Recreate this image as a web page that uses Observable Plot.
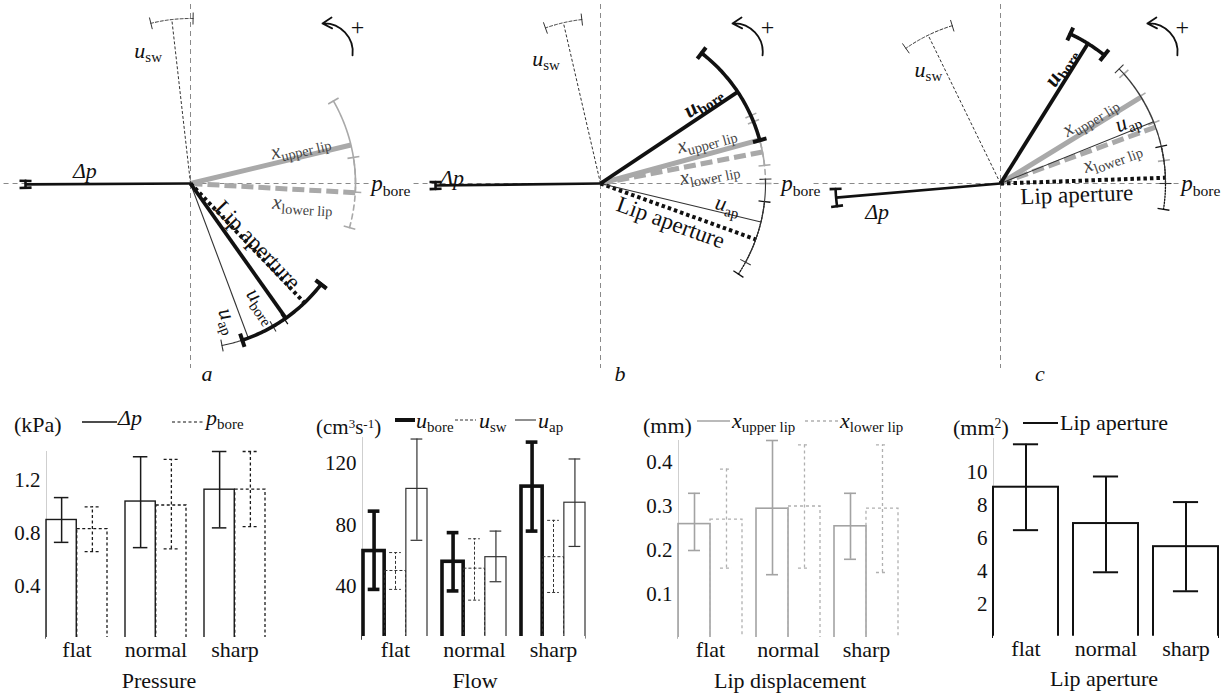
<!DOCTYPE html>
<html><head><meta charset="utf-8">
<script src="https://cdn.jsdelivr.net/npm/d3@7"></script>
<script src="https://cdn.jsdelivr.net/npm/@observablehq/plot@0.6"></script>
<style>
html,body{margin:0;padding:0;background:#fff;}
#fig{position:relative;width:1232px;height:700px;overflow:hidden;font-family:"Liberation Serif","Times New Roman",serif;color:#111;}
.pane{position:absolute;}
.pane svg{overflow:visible;max-width:none;}
.t{position:absolute;white-space:nowrap;line-height:1;font-family:"Liberation Serif",serif;color:#111;}
.t i{font-style:italic;}
.t sub{font-size:0.68em;vertical-align:-0.28em;line-height:0;font-style:normal;}
.t sup{font-size:0.62em;vertical-align:0.5em;line-height:0;}
</style></head>
<body><div id="fig"></div>
<script>
// ================= DATA =================
// Phasor diagrams: angle (deg, counter-clockwise from p_bore) and ± spread of each phasor
const phasorKeys = ["dp", "usw", "ubore", "uap", "xupper", "xlower", "aperture"];
const angleA = [180.3, 96.5, -54.7, -69.5, 13.5, -3.2, -46.3];
const errA   = [1.2, 7.4, 17, 9.5, 16.5, 12.3, 9];
const angleB = [180.7, 103, 33.7, -13.5, 15.3, 11, -19.8];
const errB   = [1.2, 6.5, 18.5, 15, 9, 11, 13.5];
const angleC = [184.9, 116, 58, 22, 31.6, 20, 2];
const errC   = [3, 9, 7, 22, 10, 12, 11];
const phasorLabel = {dp: "Δp|", usw: "u|sw", ubore: "u|bore", uap: "u|ap",
  xupper: "x|upper lip", xlower: "x|lower lip", aperture: "Lip aperture"};

// Bar charts
const conditions = ["flat", "normal", "sharp"];
// Pressure (kPa)
const dpMean = [0.90, 1.04, 1.13];
const dpLow  = [0.73, 0.69, 0.84];
const dpHigh = [1.07, 1.38, 1.42];
const pboreMean = [0.83, 1.01, 1.13];
const pboreLow  = [0.66, 0.68, 0.85];
const pboreHigh = [1.00, 1.36, 1.42];
const pressureTicks = [0.4, 0.8, 1.2];
// Flow (cm3 s-1)
const uboreMean = [63, 56, 105];
const uboreLow  = [38, 37, 76];
const uboreHigh = [89, 75, 134];
const uswMean = [50, 51.5, 59];
const uswLow  = [38, 31, 36];
const uswHigh = [62, 71, 83];
const uapMean = [103.5, 59, 94.5];
const uapLow  = [70, 43, 66];
const uapHigh = [136, 76, 123];
const flowTicks = [40, 80, 120];
// Lip displacement (mm)
const xUpperMean = [0.26, 0.295, 0.255];
const xUpperLow  = [0.20, 0.145, 0.18];
const xUpperHigh = [0.33, 0.45, 0.33];
const xLowerMean = [0.27, 0.30, 0.295];
const xLowerLow  = [0.16, 0.16, 0.15];
const xLowerHigh = [0.385, 0.44, 0.44];
const dispTicks = [0.1, 0.2, 0.3, 0.4];
// Lip aperture (mm2)
const apMean = [9.1, 6.9, 5.5];
const apLow  = [6.5, 3.95, 2.8];
const apHigh = [11.7, 9.75, 8.2];
const apTicks = [2, 4, 6, 8, 10];

// ================= LAYOUT / STYLE =================
const fig = document.getElementById("fig");
const FONT = "'Liberation Serif', 'Times New Roman', serif";
const R = 165, OX = 190, OY = 183, PH = 380;      // phasor panel geometry (px)
const AXIS_L = 1.13, AXIS_R = 1.085;
const rad = a => a * Math.PI / 180;
const drawOrder = ["xupper", "xlower", "aperture", "uap", "usw", "ubore", "dp"];
const phasorStyle = {
  dp:       {stroke: "#111", w: 2.6, arcW: 2.6, tick: 6},
  usw:      {stroke: "#333", w: 1, dash: "3,2", arcW: 1, arcDash: "3,2", tick: 6},
  ubore:    {stroke: "#111", w: 3.8, arcW: 3.6, tick: 7, tickW: 4},
  uap:      {stroke: "#333", w: 1.1, arcW: 1.1, tick: 6},
  xupper:   {stroke: "#a9a9a9", w: 5, arcW: 1.6, tick: 6},
  xlower:   {stroke: "#a9a9a9", w: 5, dash: "12,5", arcW: 1.6, arcDash: "5,4", tick: 6},
  aperture: {stroke: "#111", w: 4, dash: "3.5,3", arcW: 1.3, arcDash: "1.5,1.5", tick: 6}
};
// label placement: [fraction along phasor, perpendicular offset px]
const labelA = {dp: [0.64, -13], usw: [0.83, 27], ubore: [0.855, -12], uap: [0.86, -12], xupper: [0.70, 11], xlower: [0.685, -14], aperture: [0.55, 6]};
const labelB = {dp: [0.90, -7], usw: [0.81, 25], ubore: [0.79, 12], uap: [0.78, 9], xupper: [0.69, 15], xlower: [0.66, -10], aperture: [0.48, -13]};
const labelC = {dp: [0.76, 18], usw: [0.81, 15], ubore: [0.79, 11], uap: [0.855, 10], xupper: [0.675, 11], xlower: [0.69, -12.6], aperture: [0.46, -14]};
const rotationArrow = {x1: 0.982, y1: 0.776, x2: 0.80, y2: 0.97, px: 1.012, py: 0.945};

const panels = [
  {left: 0,   width: 410, angle: angleA, err: errA, lab: labelA, bold: false, shift: 0,    letter: "a", letterX: 207},
  {left: 410, width: 400, angle: angleB, err: errB, lab: labelB, bold: true,  shift: 0,    letter: "b", letterX: 620},
  {left: 810, width: 422, angle: angleC, err: errC, lab: labelC, bold: true,  shift: 0.09, letter: "c", letterX: 1040}
];

function richify(root) {
  const NS = "http://www.w3.org/2000/svg";
  root.querySelectorAll("text").forEach(t => {
    if (t.querySelector("tspan")) return;
    let s = t.textContent, bold = false;
    if (s.startsWith("!")) { bold = true; s = s.slice(1); }
    if (!s.includes("|")) { if (bold) { t.textContent = s; t.setAttribute("font-weight", "bold"); } return; }
    const [main, sub] = s.split("|");
    t.textContent = "";
    const m = document.createElementNS(NS, "tspan");
    m.textContent = main; m.setAttribute("font-style", "italic");
    if (bold) m.setAttribute("font-weight", "bold");
    t.appendChild(m);
    if (sub) {
      const b = document.createElementNS(NS, "tspan");
      b.textContent = sub; b.setAttribute("style", "font-size:68%"); b.setAttribute("dy", "0.3em");
      if (bold) b.setAttribute("font-weight", "bold");
      t.appendChild(b);
    }
  });
}

function place(node, left, top) {
  const d = document.createElement("div");
  d.className = "pane"; d.style.left = left + "px"; d.style.top = top + "px";
  d.appendChild(node); fig.appendChild(d); return d;
}
function txt(html, x, base, size, opts = {}) {
  const d = document.createElement("div");
  d.className = "t"; d.innerHTML = html;
  d.style.left = x + "px"; d.style.top = (base - 0.8375 * size) + "px"; d.style.fontSize = size + "px";
  if (opts.center) d.style.transform = "translateX(-50%)";
  if (opts.color) d.style.color = opts.color;
  fig.appendChild(d);
}
function sample(x1, x2, y, stroke, w, dash) {
  const svg = d3.create("svg").attr("width", x2 - x1).attr("height", 10)
    .style("position", "absolute").style("left", x1 + "px").style("top", (y - 5) + "px");
  svg.append("line").attr("x1", 0).attr("x2", x2 - x1).attr("y1", 5).attr("y2", 5)
    .attr("stroke", stroke).attr("stroke-width", w).attr("stroke-dasharray", dash || null);
  fig.appendChild(svg.node());
}

// ================= PHASOR PANELS =================
function phasorPlot(p) {
  const rows = phasorKeys.map((k, i) => ({key: k, angle: p.angle[i], err: p.err[i]}));
  const marks = [
    Plot.ruleX([0], {stroke: "#8a8a8a", strokeWidth: 1, strokeDasharray: "5,4", insetTop: 4, insetBottom: 12}),
    Plot.ruleY([0], {x1: () => -AXIS_L, x2: () => AXIS_R, stroke: "#8a8a8a", strokeWidth: 1, strokeDasharray: "5,4"})
  ];
  for (const k of drawOrder) {
    const r = rows.find(d => d.key === k), s = phasorStyle[k];
    const arc = d3.range(0, 49).map(j => rad(r.angle - r.err + 2 * r.err * j / 48));
    marks.push(Plot.line(arc, {x: a => Math.cos(a), y: a => Math.sin(a), stroke: s.stroke, strokeWidth: s.arcW, strokeDasharray: s.arcDash}));
    const t = s.tick / R;
    marks.push(Plot.link([r.angle - r.err, r.angle + r.err], {
      x1: a => (1 - t) * Math.cos(rad(a)), y1: a => (1 - t) * Math.sin(rad(a)),
      x2: a => (1 + t) * Math.cos(rad(a)), y2: a => (1 + t) * Math.sin(rad(a)),
      stroke: s.stroke, strokeWidth: s.tickW || s.arcW}));
    marks.push(Plot.link([r], {x1: () => 0, y1: () => 0, x2: d => Math.cos(rad(d.angle)), y2: d => Math.sin(rad(d.angle)),
      stroke: s.stroke, strokeWidth: s.w, strokeDasharray: s.dash, strokeLinecap: "butt"}));
  }
  for (const k of phasorKeys) {
    const r = rows.find(d => d.key === k), [along, off] = p.lab[k];
    const th = rad(r.angle), o = off / R;
    const x = along * Math.cos(th) - o * Math.sin(th), y = along * Math.sin(th) + o * Math.cos(th);
    const rot = (k === "dp" || k === "usw") ? 0 : -r.angle;
    const text = (k === "ubore" && p.bold ? "!" : "") + phasorLabel[k];
    marks.push(Plot.text([r], {x: () => x, y: () => y, text: () => text, rotate: rot,
      fontSize: k === "aperture" ? 23 : (k.startsWith("x") ? 21 : 22), fill: k.startsWith("x") ? "#444" : "#111"}));
  }
  marks.push(Plot.text(["p|bore"], {x: () => AXIS_R + 0.01, y: () => 0, textAnchor: "start", fontSize: 23, fill: "#111"}));
  marks.push(Plot.arrow([rotationArrow], {x1: d => d.x1 + p.shift, y1: "y1", x2: d => d.x2 + p.shift, y2: "y2",
    bend: -50, headLength: 9, strokeWidth: 1.8, stroke: "#111"}));
  marks.push(Plot.text(["+"], {x: () => rotationArrow.px + p.shift, y: () => rotationArrow.py, fontSize: 24, fill: "#111"}));
  return Plot.plot({
    width: p.width, height: PH, margin: 0,
    x: {domain: [-OX / R, (p.width - OX) / R], axis: null},
    y: {domain: [-(PH - OY) / R, OY / R], axis: null},
    style: {fontFamily: FONT, fontSize: "22px", background: "transparent", color: "#111", overflow: "visible"},
    marks
  });
}
for (const p of panels) {
  const svg = phasorPlot(p);
  richify(svg);
  place(svg, p.left, 0);
  txt("<i>" + p.letter + "</i>", p.letterX, 381, 22, {center: true});
}

// ================= BAR PANELS =================
const BTOP = 430, BH = 230;
function barPlot(cfg) {
  const n = cfg.series.length;
  const W = cfg.width - cfg.mL - cfg.mR;
  const step = W / (conditions.length - cfg.pad);
  const bw = step * (1 - cfg.pad), sub = bw / n;
  const dom0 = cfg.domain[0];
  const maxW = Math.max(...cfg.series.map(s => s.w));
  const marks = [Plot.frame({anchor: "left", stroke: "#cfcfcf", strokeWidth: 1})];
  const rowsOf = s => conditions.map((c, i) => ({c, mean: s.mean[i], lo: s.lo[i], hi: s.hi[i]}));
  cfg.series.forEach((s, k) => {
    marks.push(Plot.barY(rowsOf(s), {x: "c", y1: () => dom0, y2: "mean", insetLeft: k * sub, insetRight: (n - 1 - k) * sub,
      fill: "none", stroke: s.stroke, strokeWidth: s.w, strokeDasharray: s.dash}));
  });
  marks.push(Plot.ruleY([dom0], {stroke: "white", strokeWidth: maxW + 1.5}));
  cfg.series.forEach((s, k) => {
    const rows = rowsOf(s);
    const dx = -bw / 2 + (k + 0.5) * sub;
    const capIn = (sub - cfg.cap) / 2;
    const ew = s.ew || s.w;
    marks.push(Plot.ruleX(rows, {x: "c", y1: "lo", y2: "hi", dx, stroke: s.stroke, strokeWidth: ew, strokeDasharray: s.dash}));
    for (const f of ["lo", "hi"]) {
      marks.push(Plot.tickY(rows, {x: "c", y: f, insetLeft: k * sub + capIn, insetRight: (n - 1 - k) * sub + capIn,
        stroke: s.stroke, strokeWidth: ew, strokeDasharray: s.dash}));
    }
  });
  marks.push(Plot.axisY({ticks: cfg.ticks, tickFormat: d => String(d), tickSize: 0, tickPadding: 6, label: null, fontSize: 21}));
  marks.push(Plot.axisX({tickSize: 0, tickPadding: 3, label: null, fontSize: 22}));
  return Plot.plot({
    width: cfg.width, height: BH,
    marginLeft: cfg.mL, marginRight: cfg.mR, marginTop: cfg.yTop - BTOP, marginBottom: BTOP + BH - cfg.yBase,
    x: {type: "band", domain: conditions, paddingInner: cfg.pad, paddingOuter: 0, label: null},
    y: {domain: cfg.domain, label: null},
    style: {fontFamily: FONT, fontSize: "21px", background: "transparent", color: "#111", overflow: "visible"},
    marks
  });
}
const barPanels = [
  {left: 0, width: 300, mL: 46, mR: 34, yTop: 451, yBase: 638, domain: [0, 1.42], ticks: pressureTicks, pad: 0.224, cap: 15,
   series: [
     {mean: dpMean, lo: dpLow, hi: dpHigh, stroke: "#1a1a1a", w: 1.4, ew: 1.5},
     {mean: pboreMean, lo: pboreLow, hi: pboreHigh, stroke: "#1a1a1a", w: 1.3, dash: "3,2.5"}]},
  {left: 300, width: 310, mL: 62, mR: 25, yTop: 437, yBase: 638, domain: [6, 137], ticks: flowTicks, pad: 0.19, cap: 12,
   series: [
     {mean: uboreMean, lo: uboreLow, hi: uboreHigh, stroke: "#111", w: 3.6},
     {mean: uswMean, lo: uswLow, hi: uswHigh, stroke: "#333", w: 1, dash: "3,2"},
     {mean: uapMean, lo: uapLow, hi: uapHigh, stroke: "#333", w: 1.2}]},
  {left: 610, width: 310, mL: 68, mR: 22, yTop: 440, yBase: 638, domain: [0, 0.45], ticks: dispTicks, pad: 0.18, cap: 12,
   series: [
     {mean: xUpperMean, lo: xUpperLow, hi: xUpperHigh, stroke: "#a3a3a3", w: 1.6},
     {mean: xLowerMean, lo: xLowerLow, hi: xLowerHigh, stroke: "#b0b0b0", w: 1.3, dash: "3,3"}]},
  {left: 920, width: 312, mL: 73, mR: 14, yTop: 438, yBase: 637, domain: [0, 12.05], ticks: apTicks, pad: 0.19, cap: 25,
   series: [
     {mean: apMean, lo: apLow, hi: apHigh, stroke: "#111", w: 2}]}
];
for (const b of barPanels) place(barPlot(b), b.left, BTOP);

// ================= LEGENDS & TITLES =================
txt("(kPa)", 14, 432, 22);
sample(82, 117, 422, "#111", 1.3);
txt("<i>Δp</i>", 118, 425, 22);
sample(172, 205, 422, "#111", 1.2, "3,2.5");
txt("<i>p</i><sub>bore</sub>", 206, 425, 22);

txt("(cm<sup>3</sup>s<sup>-1</sup>)", 316, 435, 21);
sample(395, 415, 420, "#111", 4);
txt("<i>u</i><sub>bore</sub>", 416, 428, 22);
sample(455, 476, 420, "#333", 1, "3,2");
txt("<i>u</i><sub>sw</sub>", 479, 428, 22);
sample(515, 536, 420, "#333", 1.1);
txt("<i>u</i><sub>ap</sub>", 538, 428, 22);

txt("(mm)", 643, 433, 22);
sample(697, 730, 421, "#a3a3a3", 1.6);
txt("<i>x</i><sub>upper lip</sub>", 732, 428, 22);
sample(805, 838, 421, "#b0b0b0", 1.3, "3,3");
txt("<i>x</i><sub>lower lip</sub>", 840, 428, 22);

txt("(mm<sup>2</sup>)", 953, 435, 22);
sample(1023, 1058, 423, "#111", 2);
txt("Lip aperture", 1060, 430, 22);

txt("Pressure", 159, 688, 22, {center: true});
txt("Flow", 475, 688, 22, {center: true});
txt("Lip displacement", 790, 688, 22, {center: true});
txt("Lip aperture", 1104, 686, 22, {center: true});
</script></body></html>
